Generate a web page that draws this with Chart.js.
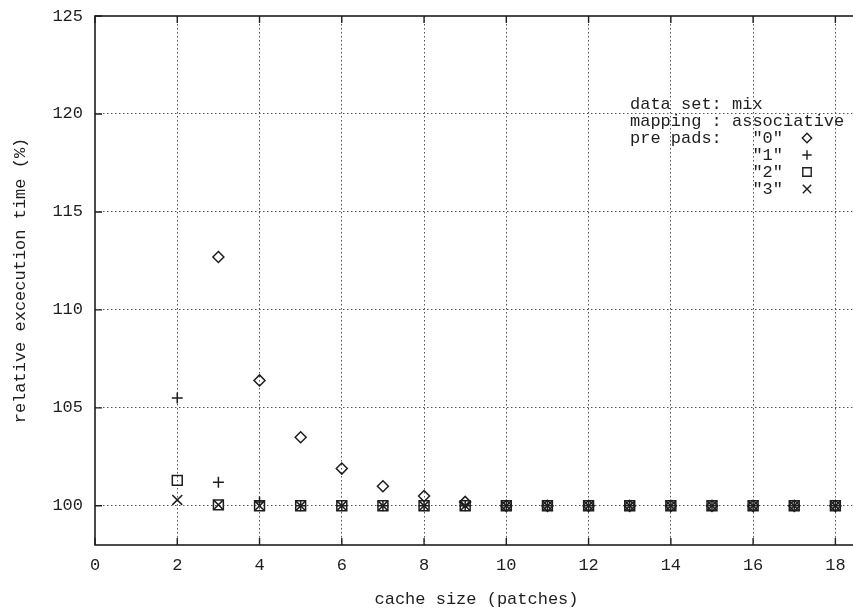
<!DOCTYPE html>
<html>
<head>
<meta charset="utf-8">
<script src="https://cdn.jsdelivr.net/npm/chart.js@4/dist/chart.umd.min.js"></script>
<style>
  html, body { margin: 0; padding: 0; background: #fff; overflow: hidden; }
  #wrap { width: 870px; height: 612px; position: relative; }
</style>
</head>
<body>
<div id="wrap"><canvas id="cacheChart"></canvas></div>
<script>
// cache size (patches) on x, relative execution time (%) on y
const xPad0 = [3, 4, 5, 6, 7, 8, 9, 10, 11, 12, 13, 14, 15, 16, 17, 18];
const yPad0 = [112.7, 106.4, 103.5, 101.9, 101.0, 100.5, 100.2, 100, 100, 100, 100, 100, 100, 100, 100, 100];

const xPad1 = [2, 3, 4, 5, 6, 7, 8, 9, 10, 11, 12, 13, 14, 15, 16, 17, 18];
const yPad1 = [105.5, 101.2, 100.2, 100, 100, 100, 100, 100, 100, 100, 100, 100, 100, 100, 100, 100, 100];

const xPad2 = [2, 3, 4, 5, 6, 7, 8, 9, 10, 11, 12, 13, 14, 15, 16, 17, 18];
const yPad2 = [101.3, 100.05, 100, 100, 100, 100, 100, 100, 100, 100, 100, 100, 100, 100, 100, 100, 100];

const xPad3 = [2, 3, 4, 5, 6, 7, 8, 9, 10, 11, 12, 13, 14, 15, 16, 17, 18];
const yPad3 = [100.3, 100.05, 100, 100, 100, 100, 100, 100, 100, 100, 100, 100, 100, 100, 100, 100, 100];

const seriesLabels = ['"0"', '"1"', '"2"', '"3"'];
const seriesShapes = ['rectRot', 'cross', 'rect', 'crossRot'];
const seriesRadius = [5.5, 5.5, 7, 7];

const xTicks = [0, 2, 4, 6, 8, 10, 12, 14, 16, 18];
const yTicks = [100, 105, 110, 115, 120, 125];

const keyHeader = ['data set: mix', 'mapping : associative', 'pre pads:'];

const ink = '#1e1e1e';
const monoFont = '"Liberation Mono", "DejaVu Sans Mono", monospace';

function toPoints(xs, ys) {
    return xs.map((x, i) => ({ x: x, y: ys[i] }));
}

const allX = [xPad0, xPad1, xPad2, xPad3];
const allY = [yPad0, yPad1, yPad2, yPad3];

const datasets = seriesLabels.map((lbl, i) => ({
    label: lbl,
    data: toPoints(allX[i], allY[i]),
    showLine: false,
    pointStyle: seriesShapes[i],
    pointRadius: seriesRadius[i],
    pointBorderWidth: 1.5,
    pointBorderColor: ink,
    pointBackgroundColor: 'rgba(0,0,0,0)',
    pointHoverRadius: seriesRadius[i]
}));

// gnuplot style box border with inward ticks
const framePlugin = {
    id: 'frame',
    beforeDatasetsDraw(chart) {
        const { ctx, chartArea: a, scales } = chart;
        ctx.save();
        ctx.strokeStyle = ink;
        ctx.lineWidth = 1.6;
        ctx.setLineDash([]);
        ctx.strokeRect(a.left, a.top, a.right - a.left, a.bottom - a.top);
        ctx.lineWidth = 1.4;
        ctx.beginPath();
        xTicks.forEach(v => {
            const px = scales.x.getPixelForValue(v);
            ctx.moveTo(px, a.bottom); ctx.lineTo(px, a.bottom - 7);
            ctx.moveTo(px, a.top); ctx.lineTo(px, a.top + 7);
        });
        yTicks.forEach(v => {
            const py = scales.y.getPixelForValue(v);
            ctx.moveTo(a.left, py); ctx.lineTo(a.left + 7, py);
        });
        ctx.stroke();
        ctx.restore();
    }
};

// key drawn inside the plot like the original
const keyPlugin = {
    id: 'key',
    afterDatasetsDraw(chart) {
        const ctx = chart.ctx;
        const left = 630, top = 104, step = 17;
        ctx.save();
        ctx.fillStyle = ink;
        ctx.font = '17px ' + monoFont;
        ctx.textBaseline = 'middle';
        ctx.textAlign = 'left';
        keyHeader.forEach((t, i) => ctx.fillText(t, left, top + i * step));
        const keyTop = top + 2 * step;
        seriesLabels.forEach((lbl, i) => {
            const y = keyTop + i * step;
            ctx.textAlign = 'right';
            ctx.fillText(lbl, 783, y);
            const opts = {
                pointStyle: seriesShapes[i],
                radius: seriesRadius[i] * 0.85,
                borderWidth: 1.4,
                rotation: 0
            };
            ctx.strokeStyle = ink;
            ctx.fillStyle = 'rgba(0,0,0,0)';
            ctx.lineWidth = 1.4;
            Chart.helpers.drawPoint(ctx, opts, 807, y);
            ctx.fillStyle = ink;
        });
        ctx.restore();
    }
};

const ctx = document.getElementById('cacheChart').getContext('2d');

new Chart(ctx, {
    type: 'scatter',
    data: { datasets: datasets },
    plugins: [framePlugin, keyPlugin],
    options: {
        responsive: true,
        maintainAspectRatio: false,
        animation: false,
        layout: { padding: { left: 0, right: 12, top: 16, bottom: 0 } },
        plugins: {
            legend: { display: false },
            tooltip: { enabled: false }
        },
        scales: {
            x: {
                type: 'linear',
                min: 0,
                max: 18.55,
                afterBuildTicks: s => { s.ticks = xTicks.map(v => ({ value: v })); },
                afterFit: s => { s.height = 67; s.paddingLeft = 0; s.paddingRight = 0; },
                ticks: {
                    color: ink,
                    font: { family: monoFont, size: 17 },
                    padding: 10,
                    maxRotation: 0
                },
                grid: {
                    drawTicks: false,
                    color: c => (c.tick && c.tick.value === 0) ? 'rgba(0,0,0,0)' : '#555',
                    lineWidth: 1
                },
                border: { display: false, dash: [1.5, 2.5] },
                title: {
                    display: true,
                    text: 'cache size (patches)',
                    color: ink,
                    font: { family: monoFont, size: 17 },
                    padding: { top: 0, bottom: 2 }
                }
            },
            y: {
                type: 'linear',
                min: 98,
                max: 125,
                afterBuildTicks: s => { s.ticks = yTicks.map(v => ({ value: v })); },
                afterFit: s => { s.width = 95; s.paddingTop = 0; s.paddingBottom = 0; },
                ticks: {
                    color: ink,
                    font: { family: monoFont, size: 17 },
                    padding: 12
                },
                grid: {
                    drawTicks: false,
                    color: c => (c.tick && c.tick.value === 125) ? 'rgba(0,0,0,0)' : '#555',
                    lineWidth: 1
                },
                border: { display: false, dash: [1.5, 2.5] },
                title: {
                    display: true,
                    text: 'relative excecution time (%)',
                    color: ink,
                    font: { family: monoFont, size: 17 },
                    padding: { top: 10, bottom: 0 }
                }
            }
        }
    }
});
</script>
</body>
</html>
